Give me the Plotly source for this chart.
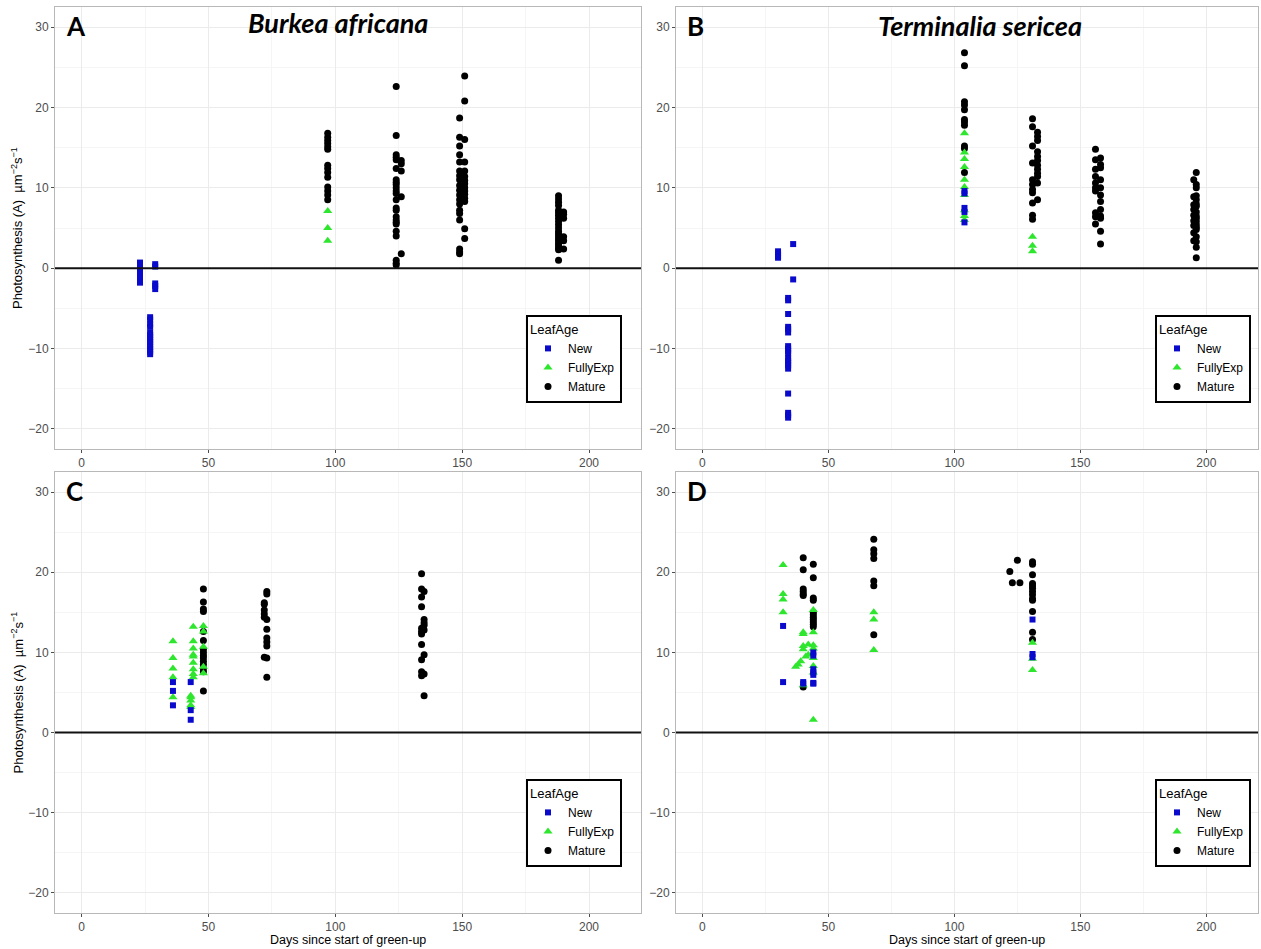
import plotly.graph_objects as go

# ---------------- data (day since green-up -> photosynthesis values) ----------------
A_new = {23: [0.7, 0.4, 0.0, -0.4, -0.8, -1.2, -1.8],
         27: [-6.1, -6.4, -7.0, -7.3, -8.0, -8.3, -8.6, -8.9, -9.2, -9.5, -9.8, -10.1, -10.4, -10.7],
         29: [0.5, 0.2, -1.9, -2.2, -2.6]}
A_fully = {97: [7.1, 5.0, 3.4]}
A_mature = {97: [16.8, 16.3, 15.9, 15.5, 15.1, 14.8, 12.8, 12.4, 11.9, 11.3, 10.1, 9.6, 9.1, 8.5],
            124: [22.6, 16.5, 14.1, 13.8, 13.5, 12.4, 11.0, 10.7, 10.4, 10.0, 9.6, 9.3, 8.5, 7.5,
                  7.2, 6.4, 6.0, 5.7, 5.5, 4.6, 4.0, 1.0, 0.6, 0.4],
            126: [13.4, 13.0, 12.1, 8.9, 1.8],
            149: [18.7, 16.3, 15.2, 14.1, 13.2, 12.1, 11.5, 11.0, 10.3, 9.7, 9.1, 8.5, 8.0, 7.2,
                  6.8, 6.0, 2.4, 2.0, 1.8],
            151: [23.9, 20.8, 16.0, 13.2, 12.1, 11.4, 10.9, 10.5, 10.0, 9.6, 9.2, 8.7, 8.3, 4.9, 3.7],
            188: [9.0, 8.6, 8.2, 7.8, 7.2, 6.9, 6.6, 6.2, 5.8, 5.4, 5.0, 4.6, 4.3, 4.0, 3.7, 3.4,
                  3.1, 2.8, 2.5, 2.3, 1.0],
            190: [7.0, 6.7, 6.2, 3.9, 3.4, 2.4]}

B_new = {30: [2.1, 1.8, 1.5, 1.3],
         34: [-3.7, -4.0, -5.7, -7.3, -7.6, -8.0, -9.7, -10.0, -10.3, -10.6, -11.2, -11.5, -11.8,
              -12.1, -12.5, -15.6, -18.0, -18.3, -18.6],
         36: [3.0, -1.4],
         104: [9.6, 9.3, 7.5, 7.0, 5.7]}
B_fully = {104: [16.8, 14.4, 13.6, 12.6, 11.0, 10.1, 9.1, 7.2, 6.5, 6.0],
           131: [3.9, 2.8, 2.1]}
B_mature = {104: [26.8, 25.2, 20.7, 20.3, 19.7, 18.5, 18.2, 17.8, 15.2, 14.9, 11.9],
            131: [18.6, 17.6, 15.2, 13.1, 11.0, 10.4, 9.8, 9.4, 8.1, 6.6, 6.1],
            133: [16.9, 16.4, 15.9, 14.5, 13.9, 13.4, 12.8, 12.3, 11.8, 11.4, 10.6, 8.5],
            156: [14.8, 13.5, 12.3, 11.4, 10.6, 10.0, 9.6, 6.9, 6.4, 5.5],
            158: [13.7, 12.9, 12.5, 11.0, 10.0, 9.1, 8.3, 7.3, 6.5, 6.2, 4.6, 3.0],
            195: [11.0, 8.9, 7.9, 7.3, 6.6, 5.9, 5.3, 4.4, 3.4],
            196: [11.9, 10.4, 10.0, 9.0, 8.5, 8.0, 7.7, 7.0, 6.5, 6.2, 5.8, 5.4, 5.1, 4.8, 3.9,
                  3.3, 2.6, 1.3]}

C_new = {36: [6.3, 5.2, 3.4], 43: [6.3, 2.8, 1.6]}
C_fully = {36: [11.4, 9.3, 8.0, 6.9, 4.4],
           43: [4.6, 4.4, 4.0, 3.4, 3.2],
           44: [13.2, 11.4, 10.5, 9.7, 9.5, 8.7, 7.9, 7.3, 6.9],
           48: [13.3, 12.6, 10.7, 8.2, 7.4]}
C_mature = {48: [17.9, 16.3, 15.4, 15.1, 12.6, 11.5, 10.4, 10.0, 9.6, 9.3, 8.9, 8.5, 8.0, 7.6, 5.2],
            72: [16.2, 16.0, 15.3, 14.8, 14.4, 9.4],
            73: [17.6, 17.3, 14.1, 12.9, 11.8, 11.3, 10.8, 9.3, 6.9],
            134: [19.8, 17.9, 16.9, 15.7, 13.0, 12.6, 12.3, 11.0, 9.1, 7.6, 7.1],
            135: [17.6, 14.1, 13.7, 13.4, 12.8, 9.7, 7.3, 4.6]}

D_new = {32: [13.3, 6.3], 40: [6.3, 6.1],
         44: [10.0, 9.6, 7.9, 7.5, 7.2, 6.2, 6.1],
         131: [14.1, 9.8, 9.4]}
D_fully = {32: [20.9, 17.3, 16.6, 15.0], 37: [8.2], 38: [8.5], 39: [8.9],
           40: [12.5, 12.3, 10.8, 10.4, 5.9], 41: [9.5], 42: [9.7, 11.0],
           44: [15.3, 12.5, 10.9, 10.5, 9.3, 8.3, 7.5, 1.6],
           68: [15.0, 14.1, 10.3], 131: [11.2, 9.2, 7.8]}
D_mature = {40: [21.8, 20.3, 17.9, 17.6, 17.3, 17.1, 5.7],
            44: [21.0, 19.3, 16.8, 16.5, 15.0, 14.7, 14.4, 14.1, 13.8, 13.5, 13.2],
            68: [24.1, 22.8, 22.3, 21.7, 18.9, 18.3, 12.2],
            122: [20.1], 123: [18.7], 125: [21.5], 126: [18.7],
            131: [21.3, 21.0, 19.7, 18.6, 18.3, 18.0, 17.6, 17.2, 16.7, 16.5, 15.1, 12.5, 11.6]}

leaf_ages = ["New", "FullyExp", "Mature"]
panel_letters = ["A", "B", "C", "D"]
species = ["Burkea africana", "Terminalia sericea"]
x_ticks = [0, 50, 100, 150, 200]
y_ticks = [-20, -10, 0, 10, 20, 30]
y_title = "Photosynthesis (A)  µm<sup>−2</sup>s<sup>−1</sup>"
x_title = "Days since start of green-up"

# ---------------- styling ----------------
W, H = 1261, 949
styles = {
    "New": dict(symbol="square", color="#0A0ACC", size=6),
    "FullyExp": dict(symbol="triangle-up", color="#2EE62E", size=8),
    "Mature": dict(symbol="circle", color="#000000", size=7),
}
TXT = "Liberation Sans, Arial, sans-serif"

xdom = {"L": [55 / W, 641 / W], "R": [676 / W, 1258 / W]}
ydom = {"T": [1 - 449 / H, 1 - 7 / H], "B": [1 - 913 / H, 1 - 472 / H]}

panels = [
    ("A", A_new, A_fully, A_mature, "L", "T"),
    ("B", B_new, B_fully, B_mature, "R", "T"),
    ("C", C_new, C_fully, C_mature, "L", "B"),
    ("D", D_new, D_fully, D_mature, "R", "B"),
]


def flat(d):
    xs, ys = [], []
    for day, vals in d.items():
        for v in vals:
            xs.append(day)
            ys.append(v)
    return xs, ys


fig = go.Figure()
layout = {}
shapes = []
annotations = []

for i, (letter, dn, df, dm, hx, vy) in enumerate(panels):
    sfx = "" if i == 0 else str(i + 1)
    xa, ya = "x" + sfx, "y" + sfx
    leg = "legend" + sfx
    series = {"New": dn, "FullyExp": df, "Mature": dm}
    for rank, age in zip([3, 2, 1], ["Mature", "FullyExp", "New"]):
        xs, ys = flat(series[age])
        st = styles[age]
        fig.add_trace(go.Scatter(
            x=xs, y=ys, mode="markers", name=age, xaxis=xa, yaxis=ya,
            legend=leg, legendrank=rank,
            marker=dict(symbol=st["symbol"], color=st["color"], size=st["size"],
                        line=dict(width=0)),
        ))
    common = dict(showline=True, mirror=True, linecolor="#B8B8B8", linewidth=1,
                  ticks="outside", ticklen=3, tickcolor="#4D4D4D", tickwidth=1,
                  tickfont=dict(family=TXT, size=12, color="#4D4D4D"),
                  showgrid=True, gridcolor="#EBEBEB", gridwidth=1, zeroline=False,
                  automargin=False, fixedrange=True)
    layout["xaxis" + sfx] = dict(common, domain=xdom[hx], anchor=ya, range=[-10.5, 220.5],
                                 tickvals=x_ticks,
                                 minor=dict(showgrid=True, gridcolor="#F5F5F5", dtick=25, tick0=25,
                                            ticklen=0))
    layout["yaxis" + sfx] = dict(common, domain=ydom[vy], anchor=xa, range=[-22.5, 32.5],
                                 tickvals=y_ticks,
                                 minor=dict(showgrid=True, gridcolor="#F5F5F5", dtick=10, tick0=-15,
                                            ticklen=0))
    shapes.append(dict(type="line", xref=xa + " domain", yref=ya, x0=0, x1=1, y0=0, y1=0,
                       line=dict(color="#111111", width=2), layer="above"))
    # legend box
    lx = 622 / W if hx == "L" else 1251 / W
    lyb = 1 - 403 / H if vy == "T" else 1 - 867 / H
    layout[leg] = dict(x=lx, y=lyb, xanchor="right", yanchor="bottom",
                       bgcolor="white", bordercolor="#000000", borderwidth=2,
                       title=dict(text="LeafAge", font=dict(family=TXT, size=13, color="#000")),
                       font=dict(family=TXT, size=12, color="#000"),
                       tracegroupgap=0, itemsizing="trace", itemwidth=30, traceorder="normal")
    # panel letter
    px0 = xdom[hx][0] * W + 9
    py = 26 if vy == "T" else 491
    annotations.append(dict(text="<b>%s</b>" % letter, xref="paper", yref="paper",
                            x=px0 / W, y=1 - py / H, xanchor="left", yanchor="middle",
                            showarrow=False, font=dict(family="Lato, Open Sans", size=26, color="#000")))

# species titles
annotations.append(dict(text="<b><i>%s</i></b>" % species[0], xref="paper", yref="paper",
                        x=338 / W, y=1 - 22 / H, xanchor="center", yanchor="middle",
                        showarrow=False, font=dict(family="Lato, Open Sans", size=27, color="#000")))
annotations.append(dict(text="<b><i>%s</i></b>" % species[1], xref="paper", yref="paper",
                        x=980 / W, y=1 - 25 / H, xanchor="center", yanchor="middle",
                        showarrow=False, font=dict(family="Lato, Open Sans", size=27, color="#000")))
# axis titles
for yc in [(7 + 449) / 2, (472 + 913) / 2]:
    annotations.append(dict(text=y_title, xref="paper", yref="paper", x=17 / W, y=1 - yc / H,
                            xanchor="center", yanchor="middle", textangle=-90, showarrow=False,
                            font=dict(family=TXT, size=13, color="#000")))
for xc in [(55 + 641) / 2, (676 + 1258) / 2]:
    annotations.append(dict(text=x_title, xref="paper", yref="paper", x=xc / W, y=1 - 940 / H,
                            xanchor="center", yanchor="middle", showarrow=False,
                            font=dict(family=TXT, size=12.5, color="#000")))

fig.update_layout(**layout)
fig.update_layout(width=W, height=H, margin=dict(l=0, r=0, t=0, b=0),
                  paper_bgcolor="white", plot_bgcolor="white",
                  shapes=shapes, annotations=annotations, showlegend=True)
fig.write_html("out.html", config={"displayModeBar": False},
               post_script="document.body.style.margin='0';document.body.style.overflow='hidden';")
